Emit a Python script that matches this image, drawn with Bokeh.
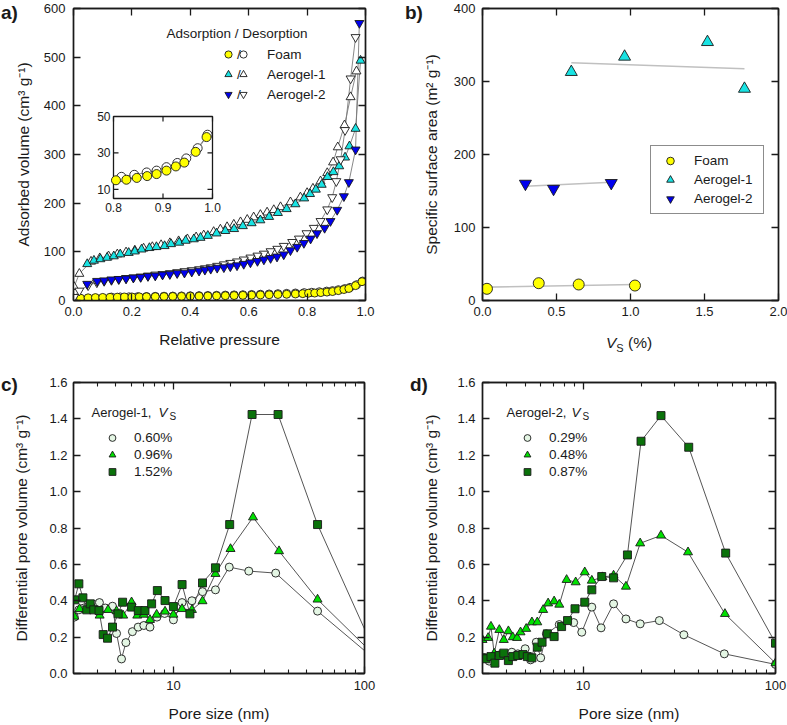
import math
from bokeh.plotting import figure
from bokeh.models import (Range1d, LinearAxis, LogAxis, LogScale, FixedTicker, NumeralTickFormatter,
                          Legend, LegendItem, Label, ColumnDataSource, CDSView, IndexFilter)
from bokeh.layouts import row, column
from bokeh.embed import file_html
from bokeh.resources import INLINE
from bokeh.core.properties import value

FONT = "Liberation Sans"
INK = "#1a1a1a"
TICK_FS = "13px"
AXLBL_FS = "15.5px"
LEG_FS = "13.5px"

# ---------------- data: panel a (N2 isotherms) ----------------
foam_ads_p = [0.024, 0.05, 0.075, 0.10, 0.125, 0.15, 0.175, 0.20, 0.225, 0.25, 0.28, 0.31, 0.34, 0.37,
              0.40, 0.43, 0.46, 0.49, 0.52, 0.55, 0.58, 0.61, 0.64, 0.67, 0.70, 0.73, 0.76, 0.785,
              0.805, 0.826, 0.847, 0.868, 0.887, 0.907, 0.926, 0.943, 0.966, 0.988]
foam_ads_v = [4.8, 5.5, 6.0, 6.3, 6.6, 6.9, 7.1, 7.3, 7.5, 7.7, 7.9, 8.1, 8.3, 8.5,
              8.8, 9.0, 9.3, 9.6, 9.9, 10.2, 10.6, 11.0, 11.4, 11.8, 12.3, 12.8, 13.4, 14.1,
              15.0, 15.3, 16.3, 17.3, 18.4, 20.3, 22.6, 24.7, 30.6, 38.7]
foam_des_p = [0.99, 0.97, 0.947, 0.929, 0.907, 0.887, 0.867, 0.842, 0.816, 0.79, 0.76, 0.73, 0.70,
              0.67, 0.64, 0.61, 0.58, 0.55, 0.52, 0.49, 0.46, 0.43, 0.40, 0.37, 0.34, 0.31, 0.28,
              0.25, 0.22, 0.19, 0.16, 0.13]
foam_des_v = [40, 32.6, 27, 24.5, 22.2, 20.3, 19.3, 18, 16.9, 16.2, 15.4, 14.7, 14,
              13.4, 12.9, 12.4, 11.9, 11.5, 11.1, 10.7, 10.3, 10, 9.7, 9.4, 9.1, 8.8, 8.5,
              8.2, 7.9, 7.6, 7.3, 7.0]
a1_ads_p = [0.047, 0.07, 0.092, 0.115, 0.138, 0.16, 0.189, 0.21, 0.233, 0.26, 0.284, 0.312, 0.334,
            0.362, 0.384, 0.412, 0.435, 0.46, 0.49, 0.52, 0.55, 0.58, 0.61, 0.64, 0.67, 0.70, 0.73,
            0.76, 0.79, 0.81, 0.83, 0.85, 0.87, 0.89, 0.91, 0.93, 0.945, 0.966, 0.983]
a1_ads_v = [75, 82, 85, 88, 91, 95, 98, 101, 105, 108, 110, 112, 116,
            119, 123, 126, 129, 133, 138, 143, 147, 153, 159, 165, 172, 180, 188,
            198, 210, 219, 228, 238, 254, 264, 276, 294, 317, 353, 493]
a1_des_p = [0.969, 0.949, 0.928, 0.905, 0.889, 0.869, 0.846, 0.82, 0.80, 0.777, 0.743, 0.709, 0.686,
            0.663, 0.64, 0.617, 0.595, 0.572, 0.549, 0.526, 0.503, 0.48, 0.446, 0.42, 0.39, 0.36,
            0.33, 0.30, 0.27, 0.24, 0.21, 0.18, 0.15, 0.12, 0.09, 0.06, 0.02, 0.002]
a1_des_v = [471, 418, 360, 315, 284, 262, 245, 230, 221, 212, 202, 192, 186,
            181, 176, 171, 166, 161, 156, 151, 146, 141, 134, 130, 126, 122,
            118, 114, 110, 107, 103, 99, 95, 91, 87, 80, 55, 28]
a2_ads_p = [0.047, 0.081, 0.105, 0.13, 0.155, 0.18, 0.205, 0.23, 0.255, 0.28, 0.305, 0.33, 0.355,
            0.38, 0.405, 0.43, 0.45, 0.47, 0.492, 0.515, 0.537, 0.56, 0.583, 0.606, 0.63, 0.652,
            0.675, 0.697, 0.72, 0.743, 0.766, 0.789, 0.812, 0.834, 0.86, 0.88, 0.903, 0.926,
            0.943, 0.966, 0.979]
a2_ads_v = [34, 40, 41, 43, 44, 45, 47, 48, 50, 51, 53, 54, 56,
            57, 59, 61, 63, 65, 67, 68, 70, 72, 75, 78, 81, 84,
            87, 90, 94.5, 103, 110, 118, 127, 138, 149, 163, 186, 214,
            243, 310, 570]
a2_des_p = [0.966, 0.949, 0.93, 0.915, 0.90, 0.886, 0.869, 0.846, 0.823, 0.798, 0.772, 0.749, 0.72,
            0.698, 0.675, 0.652, 0.63, 0.606, 0.583, 0.56, 0.537, 0.515, 0.492, 0.47, 0.45, 0.43,
            0.405, 0.38, 0.355, 0.33, 0.305, 0.28, 0.255, 0.23, 0.205, 0.18, 0.155, 0.13, 0.105,
            0.08, 0.05, 0.02, 0.002]
a2_des_v = [541, 456, 350, 290, 245, 212, 187, 163, 149, 138, 127, 120, 112,
            106, 101, 96, 92, 88, 84, 80, 77, 74, 71, 68, 66, 64,
            62, 60, 58, 56, 54, 53, 51, 49, 47, 46, 44, 42, 40,
            37, 31, 20, 7]
a_xticks = [0.0, 0.2, 0.4, 0.6, 0.8, 1.0]
a_yticks = [0, 100, 200, 300, 400, 500, 600]
inset_xlim = [0.8, 1.0]
inset_ylim = [5, 50]
inset_xticks = [0.8, 0.9, 1.0]
inset_xlabels = ["0.8", "0.9", "1.0"]
inset_yticks = [10, 30, 50]
inset_ylabels = ["10", "30", "50"]

# ---------------- data: panel b (surface area vs Vs) ----------------
b_foam_vs = [0.03, 0.38, 0.65, 1.03]
b_foam_ssa = [16, 23.7, 21.9, 20.5]
b_a1_vs = [0.60, 0.96, 1.52, 1.77]
b_a1_ssa = [313, 334, 354, 290]
b_a2_vs = [0.29, 0.48, 0.87]
b_a2_ssa = [160, 153, 161]
b_foam_fit_x = [0.03, 1.03]
b_foam_fit_y = [18.3, 21.9]
b_a1_fit_x = [0.60, 1.77]
b_a1_fit_y = [325.6, 317.4]
b_a2_fit_x = [0.29, 0.87]
b_a2_fit_y = [156.6, 162.0]
b_xticks = [0.0, 0.5, 1.0, 1.5, 2.0]
b_yticks = [0, 100, 200, 300, 400]

# ---------------- data: panel c (Aerogel-1 PSD) ----------------
c_circ_x = [3.03, 3.2, 3.4, 3.6, 3.85, 4.1, 4.4, 4.8, 5.04, 5.35, 5.64, 6.1, 6.54, 7.0, 7.54, 8.2,
            9.0, 10.0, 11.1, 12.5, 14.2, 16.6, 19.6, 24.8, 34.3, 56.8, 100]
c_circ_y = [0.31, 0.35, 0.36, 0.37, 0.38, 0.39, 0.36, 0.37, 0.22, 0.08, 0.17, 0.23, 0.255, 0.264,
            0.255, 0.31, 0.33, 0.295, 0.39, 0.40, 0.45, 0.46, 0.585, 0.563, 0.552, 0.343, 0.126]
c_tri_x = [3.03, 3.23, 3.52, 3.79, 4.11, 4.55, 5.04, 5.46, 6.04, 6.47, 7.0, 7.54, 8.17, 9.04, 10,
           11.1, 12.5, 14.2, 16.6, 19.9, 26.1, 35.7, 56.8, 100]
c_tri_y = [0.313, 0.355, 0.35, 0.365, 0.319, 0.35, 0.343, 0.319, 0.392, 0.319, 0.324, 0.295, 0.324,
           0.341, 0.324, 0.355, 0.35, 0.398, 0.548, 0.685, 0.859, 0.673, 0.407, 0.154]
c_sq_x = [3.04, 3.2, 3.36, 3.52, 3.67, 3.83, 4.08, 4.29, 4.52, 4.8, 5.14, 5.42, 6.04, 6.55, 7.1,
          7.69, 8.24, 9.04, 10, 11.1, 12.2, 14.2, 16.6, 19.7, 25.8, 35.3, 56.8, 100]
c_sq_y = [0.405, 0.493, 0.416, 0.35, 0.383, 0.35, 0.346, 0.214, 0.194, 0.255, 0.328, 0.392, 0.365,
          0.346, 0.346, 0.383, 0.456, 0.401, 0.368, 0.489, 0.328, 0.498, 0.581, 0.819, 1.424, 1.424,
          0.819, 0.245]
c_labels = ["0.60%", "0.96%", "1.52%"]

# ---------------- data: panel d (Aerogel-2 PSD) ----------------
d_circ_x = [3.06, 3.25, 3.48, 3.72, 3.98, 4.26, 4.58, 5.0, 5.33, 5.71, 6.02, 6.44, 7.52, 8.93,
            9.84, 11.1, 12.4, 14.4, 16.7, 19.8, 24.9, 33.4, 54.2, 100]
d_circ_y = [0.086, 0.068, 0.099, 0.104, 0.099, 0.117, 0.108, 0.136, 0.075, 0.172, 0.086, 0.218,
            0.269, 0.28, 0.227, 0.365, 0.251, 0.383, 0.30, 0.273, 0.291, 0.213, 0.108, 0.05]
d_tri_x = [3.0, 3.21, 3.32, 3.45, 3.67, 3.87, 4.09, 4.31, 4.54, 4.73, 5.06, 5.42, 5.78, 6.2, 6.58,
           7.07, 7.52, 8.21, 9.15, 10.2, 11.1, 12.6, 14.4, 16.7, 19.8, 25.4, 35.1, 54.6, 100]
d_tri_y = [0.185, 0.196, 0.258, 0.11, 0.24, 0.185, 0.233, 0.2, 0.196, 0.227, 0.246, 0.282, 0.282,
           0.35, 0.386, 0.397, 0.379, 0.515, 0.502, 0.557, 0.511, 0.53, 0.539, 0.478, 0.716, 0.759,
           0.667, 0.328, 0.057]
d_sq_x = [3.0, 3.12, 3.32, 3.48, 3.67, 3.87, 4.09, 4.31, 4.58, 4.87, 5.13, 5.42, 5.78, 6.12, 6.52,
          7.07, 7.73, 8.3, 9.08, 10.2, 11.1, 12.5, 14.4, 17.0, 20.0, 25.4, 35.4, 55.1, 100]
d_sq_y = [0.086, 0.081, 0.093, 0.057, 0.099, 0.112, 0.071, 0.093, 0.099, 0.104, 0.093, 0.086, 0.145,
          0.172, 0.218, 0.203, 0.258, 0.291, 0.356, 0.392, 0.46, 0.533, 0.526, 0.652, 1.277, 1.418,
          1.244, 0.662, 0.167]
d_labels = ["0.29%", "0.48%", "0.87%"]

psd_xticks = [10, 100]
psd_xminor = [3, 4, 5, 6, 7, 8, 9, 20, 30, 40, 50, 60, 70, 80, 90]
psd_yticks = [0.0, 0.2, 0.4, 0.6, 0.8, 1.0, 1.2, 1.4, 1.6]

panel_tags = ["a)", "b)", "c)", "d)"]

# ---------------- colours ----------------
YELLOW = "#ffff00"
CYAN = "#19e3e3"
BLUE = "#0000ee"
LIGHT = "#e4f6e4"
GREEN = "#00e000"
DARK = "#0a720a"
LINE_A = "#7a7a7a"
LINE_CD = "#555555"
FIT = "#c0c0c0"


def style_axis(ax, show_labels=True, minor=False, fmt="0", lab_standoff=6, axis_standoff=10):
    ax.axis_line_color = INK
    ax.axis_line_width = 1.4
    ax.major_tick_in = 7
    ax.major_tick_out = 0
    ax.major_tick_line_color = INK
    ax.major_tick_line_width = 1.3
    if minor:
        ax.minor_tick_in = 4
        ax.minor_tick_out = 0
        ax.minor_tick_line_color = INK
        ax.minor_tick_line_width = 1.1
    else:
        ax.minor_tick_line_color = None
    ax.formatter = NumeralTickFormatter(format=fmt)
    ax.major_label_text_font = FONT
    if show_labels:
        ax.major_label_text_font_size = TICK_FS
        ax.major_label_text_color = INK
        ax.major_label_standoff = lab_standoff
    else:
        ax.major_label_text_font_size = "1px"
        ax.major_label_text_color = None
        ax.major_label_standoff = 0
    ax.axis_label_text_font = FONT
    ax.axis_label_text_font_size = AXLBL_FS
    ax.axis_label_text_font_style = "normal"
    ax.axis_label_text_color = INK
    ax.axis_label_standoff = axis_standoff


def make_panel(xr, yr, fw, fh, borders, xticks, yticks, xfmt, yfmt, log=False, xminor=None,
               xstand=(6, 12), ystand=(8, 9)):
    bl, br, bt, bb = borders
    AX = LogAxis if log else LinearAxis
    p = figure(x_range=xr, y_range=yr, frame_width=fw, frame_height=fh,
               min_border_left=bl, min_border_right=br, min_border_top=bt, min_border_bottom=bb,
               x_axis_type=None, y_axis_type=None,
               x_axis_location=None, y_axis_location=None,
               output_backend="svg", toolbar_location=None)
    if log:
        p.x_scale = LogScale()
    p.grid.visible = False
    p.outline_line_color = INK
    p.outline_line_width = 1.4
    p.border_fill_color = "white"
    p.background_fill_color = "white"
    xt = FixedTicker(ticks=xticks, minor_ticks=xminor or [])
    yt = FixedTicker(ticks=yticks)
    bottom = AX(ticker=xt)
    style_axis(bottom, True, bool(xminor), xfmt, xstand[0], xstand[1])
    p.add_layout(bottom, "below")
    left = LinearAxis(ticker=yt)
    style_axis(left, True, False, yfmt, ystand[0], ystand[1])
    p.add_layout(left, "left")
    top = AX(ticker=xt)
    style_axis(top, False, bool(xminor), xfmt)
    p.add_layout(top, "above")
    rt = LinearAxis(ticker=yt)
    style_axis(rt, False, False, yfmt)
    p.add_layout(rt, "right")
    return p, bottom, left


def screen_label(p, text, x, y, size=LEG_FS, style="normal", align="left"):
    p.add_layout(Label(x=x, y=y, x_units="screen", y_units="screen", text=text,
                       text_font=FONT, text_font_size=size, text_font_style=style,
                       text_color=INK, text_baseline="middle", text_align=align))


mk = dict(line_color=INK, line_width=0.9)

# ======================= panel a =======================
pa, pa_x, pa_y = make_panel(Range1d(0, 1), Range1d(0, 600), 292, 292, (73, 30, 8, 50),
                            a_xticks, a_yticks, "0.0", "0", xstand=(6, 12), ystand=(8, 9))
pa_x.axis_label = "Relative pressure"
pa_y.axis_label = "Adsorbed volume (cm³ g⁻¹)"

series_a = [
    (foam_des_p, foam_des_v, "circle", "white", 8),
    (foam_ads_p, foam_ads_v, "circle", YELLOW, 8),
    (a1_des_p, a1_des_v, "triangle", "white", 9),
    (a1_ads_p, a1_ads_v, "triangle", CYAN, 9),
    (a2_des_p, a2_des_v, "inverted_triangle", "white", 9),
    (a2_ads_p, a2_ads_v, "inverted_triangle", BLUE, 9),
]
rend_a = []
for xs, ys, m, fc, sz in series_a:
    pa.line(xs, ys, line_color=LINE_A, line_width=0.9)
for xs, ys, m, fc, sz in series_a:
    rend_a.append(pa.scatter(xs, ys, marker=m, size=sz, fill_color=fc, **mk))

# inset (0.8-1.0 zoom of the foam isotherm) drawn through extra ranges
FW, FH = 292, 292
IN_L, IN_T, IN_W, IN_H = 40, 108, 99, 82
sx = (inset_xlim[1] - inset_xlim[0]) / IN_W
sy = (inset_ylim[1] - inset_ylim[0]) / IN_H
in_bottom = FH - IN_T - IN_H
pa.extra_x_ranges = {"inset": Range1d(inset_xlim[0] - IN_L * sx,
                                      inset_xlim[1] + (FW - IN_L - IN_W) * sx)}
pa.extra_y_ranges = {"inset": Range1d(inset_ylim[0] - in_bottom * sy,
                                      inset_ylim[1] + IN_T * sy)}
ins = dict(x_range_name="inset", y_range_name="inset")
pa.quad(left=[inset_xlim[0]], right=[inset_xlim[1]], bottom=[inset_ylim[0]], top=[inset_ylim[1]],
        fill_color="white", line_color=INK, line_width=1.3, **ins)
nx, ny = len(inset_xticks), len(inset_yticks)
pa.ray(x=inset_xticks, y=[inset_ylim[0]] * nx, length=5, length_units="screen", angle=math.pi / 2,
       line_color=INK, line_width=1.2, **ins)
pa.ray(x=inset_xticks, y=[inset_ylim[1]] * nx, length=5, length_units="screen", angle=-math.pi / 2,
       line_color=INK, line_width=1.2, **ins)
pa.ray(x=[inset_xlim[0]] * ny, y=inset_yticks, length=5, length_units="screen", angle=0,
       line_color=INK, line_width=1.2, **ins)
pa.ray(x=[inset_xlim[1]] * ny, y=inset_yticks, length=5, length_units="screen", angle=math.pi,
       line_color=INK, line_width=1.2, **ins)
pa.text(x=inset_xticks, y=[inset_ylim[0]] * nx, text=inset_xlabels, text_font=value(FONT),
        text_font_size=value("12px"), text_color=INK, text_align="center", text_baseline="top",
        y_offset=4, **ins)
pa.text(x=[inset_xlim[0]] * ny, y=inset_yticks, text=inset_ylabels, text_font=value(FONT),
        text_font_size=value("12px"), text_color=INK, text_align="right", text_baseline="middle",
        x_offset=-3, **ins)
fa_p = [p for p in foam_ads_p if p >= inset_xlim[0]]
fa_v = [v for p, v in zip(foam_ads_p, foam_ads_v) if p >= inset_xlim[0]]
fd_p = [p for p in foam_des_p if p >= inset_xlim[0]]
fd_v = [v for p, v in zip(foam_des_p, foam_des_v) if p >= inset_xlim[0]]
pa.line(fd_p, fd_v, line_color=LINE_A, line_width=0.9, **ins)
pa.line(fa_p, fa_v, line_color=LINE_A, line_width=0.9, **ins)
pa.scatter(fd_p, fd_v, marker="circle", size=9, fill_color="white", **mk, **ins)
pa.scatter(fa_p, fa_v, marker="circle", size=9, fill_color=YELLOW, **mk, **ins)

# legend a: filled "/" open
leg_common = dict(padding=0, margin=0, border_line_color=None, background_fill_alpha=0,
                  label_text_font=FONT, label_text_font_size=LEG_FS, label_text_color=INK,
                  glyph_width=18, glyph_height=20, spacing=0, label_height=20)
legA = Legend(items=[LegendItem(label=value("/"), renderers=[rend_a[i]]) for i in (1, 3, 5)],
              location=(146, 196), label_standoff=0, **leg_common)
legB = Legend(items=[LegendItem(label=value(t), renderers=[rend_a[i]])
                     for t, i in (("Foam", 0), ("Aerogel-1", 2), ("Aerogel-2", 4))],
              location=(161, 196), label_standoff=15, **leg_common)
pa.add_layout(legA)
pa.add_layout(legB)
screen_label(pa, "Adsorption / Desorption", 93, 267)

# ======================= panel b =======================
pb, pb_x, pb_y = make_panel(Range1d(0, 2), Range1d(0, 400), 296, 292, (87, 9, 8, 50),
                            b_xticks, b_yticks, "0.0", "0", xstand=(6, 12), ystand=(7, 11))
pb_y.axis_label = "Specific surface area (m² g⁻¹)"
pb.line(b_foam_fit_x, b_foam_fit_y, line_color=FIT, line_width=1.6)
pb.line(b_a1_fit_x, b_a1_fit_y, line_color=FIT, line_width=1.6)
pb.line(b_a2_fit_x, b_a2_fit_y, line_color=FIT, line_width=1.6)
rb1 = pb.scatter(b_foam_vs, b_foam_ssa, marker="circle", size=11, fill_color=YELLOW, **mk)
rb2 = pb.scatter(b_a1_vs, b_a1_ssa, marker="triangle", size=12, fill_color=CYAN, **mk)
rb3 = pb.scatter(b_a2_vs, b_a2_ssa, marker="inverted_triangle", size=12, fill_color=BLUE, **mk)
legb = Legend(items=[LegendItem(label=value("Foam"), renderers=[rb1]),
                     LegendItem(label=value("Aerogel-1"), renderers=[rb2]),
                     LegendItem(label=value("Aerogel-2"), renderers=[rb3])],
              location=(168, 86), padding=5, margin=0, glyph_width=28, glyph_height=19, spacing=0,
              label_standoff=10, label_width=64, label_height=19,
              border_line_color=INK, border_line_width=1.2, background_fill_color="white",
              label_text_font=FONT, label_text_font_size=LEG_FS, label_text_color=INK)
pb.add_layout(legb)


# ======================= panels c, d =======================
def psd_panel(fw, borders, circ, tri, sq, labels, leg_x, title, title_x, v_x, s_x,
              ystand, hide_last):
    p, bx, ly = make_panel(Range1d(3, 100), Range1d(0, 1.6), fw, 291, borders, psd_xticks,
                           psd_yticks, "0", "0.0", log=True, xminor=psd_xminor, xstand=(7, 12),
                           ystand=ystand)
    bx.axis_label = "Pore size (nm)"
    ly.axis_label = "Differential pore volume (cm³ g⁻¹)"
    rends = []
    specs = [(circ, "circle", LIGHT, 8), (tri, "triangle", GREEN, 9), (sq, "square", DARK, 8)]
    for (xs, ys), m, fc, sz in specs:
        p.line(xs, ys, line_color=LINE_CD, line_width=1.0)
    for (xs, ys), m, fc, sz in specs:
        src = ColumnDataSource(dict(x=xs, y=ys))
        n = len(xs) - 1 if hide_last else len(xs)
        view = CDSView(filter=IndexFilter(list(range(n))))
        rends.append(p.scatter("x", "y", source=src, view=view, marker=m, size=sz,
                               fill_color=fc, **mk))
    leg = Legend(items=[LegendItem(label=value(t), renderers=[r]) for t, r in zip(labels, rends)],
                 location=(leg_x, 193), padding=0, margin=0, border_line_color=None,
                 background_fill_alpha=0, glyph_width=18, glyph_height=17, spacing=0,
                 label_height=17, label_standoff=13,
                 label_text_font=FONT, label_text_font_size=LEG_FS, label_text_color=INK)
    p.add_layout(leg)
    screen_label(p, title, title_x, 261, size="13px")
    screen_label(p, "V", v_x, 261, size="13.5px", style="italic")
    screen_label(p, "S", s_x, 257, size="10px")
    return p


pc = psd_panel(291, (73, 31, 32, 52), (c_circ_x, c_circ_y), (c_tri_x, c_tri_y), (c_sq_x, c_sq_y),
               c_labels, 30, "Aerogel-1,", 18, 85, 96, (6, 16), True)
pd_ = psd_panel(293, (87, 12, 32, 52), (d_circ_x, d_circ_y), (d_tri_x, d_tri_y), (d_sq_x, d_sq_y),
                d_labels, 36, "Aerogel-2,", 24, 89, 100, (7, 14), False)

layout = row(column(pa, pc), column(pb, pd_))

# texts that sit outside every plot frame (panel tags, the x title of panel b) as page text
tag_pos = [(1, 2), (405, 2), (1, 374), (410, 374)]
overlay = "".join(
    f'<div style="position:absolute;left:{x}px;top:{y}px;font-family:\'{FONT}\';font-weight:bold;'
    f'font-size:19px;color:{INK};z-index:10;line-height:22px">{t}</div>'
    for t, (x, y) in zip(panel_tags, tag_pos))
overlay += (f'<div style="position:absolute;left:606px;top:333px;font-family:\'{FONT}\';'
            f'font-size:15.5px;color:{INK};z-index:10;line-height:19px;white-space:nowrap">'
            f'<i>V</i><span style="font-size:11px;position:relative;top:4px">S</span> (%)</div>')

open("out.html", "w").write(file_html(layout, INLINE).replace("</body>", overlay + "\n</body>"))
